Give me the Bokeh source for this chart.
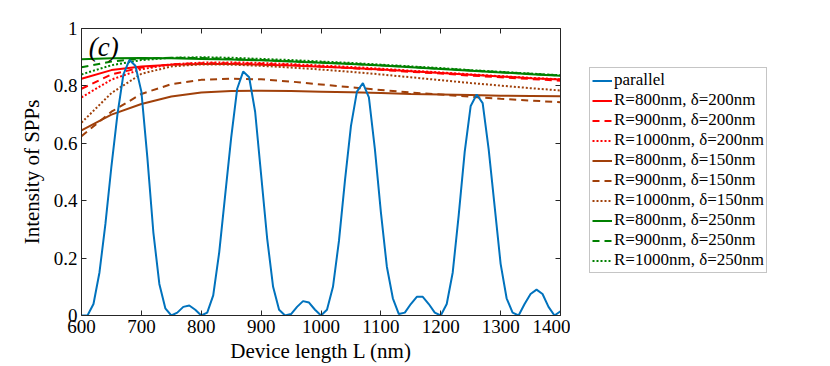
from bokeh.plotting import figure
from bokeh.models import (Legend, LegendItem, LinearAxis, FixedTicker, Range1d, Label)
from bokeh.layouts import row
from bokeh.embed import file_html
from bokeh.resources import INLINE

# ---------------- data ----------------
L_par = list(range(600, 1401, 10))
I_par = [0.0, 0.0, 0.04, 0.15, 0.32, 0.52, 0.70, 0.84, 0.89, 0.87,
         0.78, 0.55, 0.29, 0.11, 0.025, 0.0, 0.01, 0.03, 0.035, 0.02,
         0.0, 0.01, 0.07, 0.22, 0.42, 0.62, 0.79, 0.85, 0.83, 0.71,
         0.49, 0.27, 0.10, 0.02, 0.0, 0.005, 0.03, 0.05, 0.045, 0.02,
         0.0, 0.02, 0.10, 0.26, 0.47, 0.66, 0.78, 0.81, 0.76, 0.58,
         0.36, 0.17, 0.06, 0.005, 0.01, 0.04, 0.065, 0.065, 0.04, 0.01,
         0.0, 0.04, 0.15, 0.35, 0.57, 0.73, 0.77, 0.74, 0.58, 0.38,
         0.18, 0.06, 0.01, 0.0, 0.04, 0.075, 0.09, 0.075, 0.03, 0.0,
         0.015]

L_smooth = list(range(600, 1401, 50))
R800_d200 = [0.825, 0.855, 0.868, 0.874, 0.876, 0.876, 0.874, 0.871, 0.867,
             0.862, 0.857, 0.851, 0.845, 0.839, 0.833, 0.827, 0.822]
R900_d200 = [0.79, 0.84, 0.864, 0.875, 0.879, 0.879, 0.877, 0.873, 0.868,
             0.862, 0.856, 0.849, 0.843, 0.836, 0.83, 0.824, 0.818]
R1000_d200 = [0.76, 0.822, 0.858, 0.875, 0.881, 0.882, 0.88, 0.876, 0.871,
              0.866, 0.86, 0.853, 0.847, 0.84, 0.834, 0.828, 0.823]
R800_d150 = [0.645, 0.70, 0.737, 0.763, 0.777, 0.782, 0.783, 0.782, 0.78,
             0.778, 0.775, 0.772, 0.77, 0.768, 0.766, 0.765, 0.764]
R900_d150 = [0.625, 0.71, 0.772, 0.806, 0.821, 0.825, 0.823, 0.815, 0.805,
             0.795, 0.786, 0.777, 0.77, 0.762, 0.755, 0.749, 0.743]
R1000_d150 = [0.672, 0.775, 0.842, 0.868, 0.875, 0.874, 0.87, 0.864, 0.857,
              0.849, 0.84, 0.83, 0.82, 0.81, 0.801, 0.792, 0.784]
R800_d250 = [0.893, 0.896, 0.897, 0.896, 0.894, 0.892, 0.889, 0.885, 0.881,
             0.876, 0.871, 0.865, 0.859, 0.853, 0.847, 0.841, 0.835]
R900_d250 = [0.865, 0.885, 0.895, 0.898, 0.897, 0.894, 0.890, 0.886, 0.882,
             0.877, 0.872, 0.866, 0.860, 0.854, 0.848, 0.842, 0.836]
R1000_d250 = [0.84, 0.872, 0.89, 0.898, 0.9, 0.898, 0.894, 0.89, 0.885,
              0.88, 0.874, 0.868, 0.862, 0.855, 0.849, 0.843, 0.837]

labels = ["parallel",
          "R=800nm, δ=200nm", "R=900nm, δ=200nm", "R=1000nm, δ=200nm",
          "R=800nm, δ=150nm", "R=900nm, δ=150nm", "R=1000nm, δ=150nm",
          "R=800nm, δ=250nm", "R=900nm, δ=250nm", "R=1000nm, δ=250nm"]

x_ticks = [600, 700, 800, 900, 1000, 1100, 1200, 1300, 1400]
y_ticks = [0, 0.2, 0.4, 0.6, 0.8, 1]
y_tick_labels = ["0", "0.2", "0.4", "0.6", "0.8", "1"]
panel_label = "(c)"
panel_label_x = 612
panel_label_y = 0.935

# ---------------- styles ----------------
BLUE = "#0072BD"
RED = "#FF0000"
BROWN = "#A0400A"
GREEN = "#008000"
AX = "#262626"
FONT = "Liberation Serif"
DASH = "7 5"
DOT = "2 2"

p = figure(width=570, height=366, output_backend="svg",
           toolbar_location=None,
           x_range=Range1d(600, 1400), y_range=Range1d(0, 1),
           min_border_left=81, min_border_right=10, min_border_top=28,
           min_border_bottom=51)
p.grid.visible = False
p.outline_line_color = None
p.background_fill_color = "white"

def style_axis(ax):
    ax.axis_line_color = AX
    ax.axis_line_width = 1
    ax.major_tick_line_color = AX
    ax.major_tick_in = 5
    ax.major_tick_out = 0
    ax.minor_tick_line_color = None
    ax.major_label_text_font = FONT
    ax.major_label_text_font_size = "19px"
    ax.major_label_text_color = "black"
    ax.major_label_standoff = 4
    ax.axis_label_text_font = FONT
    ax.axis_label_text_font_size = "21px"
    ax.axis_label_text_font_style = "normal"
    ax.axis_label_text_color = "black"
    ax.axis_label_standoff = 3

p.xaxis.ticker = FixedTicker(ticks=x_ticks)
p.yaxis.ticker = FixedTicker(ticks=y_ticks)
p.yaxis.major_label_overrides = {t: s for t, s in zip(y_ticks, y_tick_labels)}
p.xaxis.axis_label = "Device length L (nm)"
p.yaxis.axis_label = "Intensity of SPPs"
style_axis(p.xaxis[0])
style_axis(p.yaxis[0])
p.yaxis[0].axis_label_standoff = 7

top = LinearAxis(ticker=FixedTicker(ticks=x_ticks),
                 major_label_overrides={t: "" for t in x_ticks})
right = LinearAxis(ticker=FixedTicker(ticks=y_ticks),
                   major_label_overrides={t: "" for t in y_ticks})
style_axis(top)
style_axis(right)
top.major_label_standoff = 0
right.major_label_standoff = 0
p.add_layout(top, "above")
p.add_layout(right, "right")

W = 2
series = [
    (R800_d200, RED, "solid"), (R900_d200, RED, DASH), (R1000_d200, RED, DOT),
    (R800_d150, BROWN, "solid"), (R900_d150, BROWN, DASH), (R1000_d150, BROWN, DOT),
    (R800_d250, GREEN, "solid"), (R900_d250, GREEN, DASH), (R1000_d250, GREEN, DOT),
]
for ys, col, dash in series:
    p.line(L_smooth, ys, line_color=col, line_width=W, line_dash=dash)
p.line(L_par, I_par, line_color=BLUE, line_width=W)

p.add_layout(Label(x=panel_label_x, y=panel_label_y, text=panel_label,
                   text_font=FONT, text_font_size="27px", text_font_style="italic",
                   text_baseline="middle", text_align="left", text_color="black"))

# ---------------- legend panel (separate figure, same series) ----------------
q = figure(width=250, height=366, output_backend="svg", toolbar_location=None,
           x_axis_type=None, y_axis_type=None,
           x_range=Range1d(0, 1), y_range=Range1d(-1, -0.5),
           min_border_left=0, min_border_right=0, min_border_top=0,
           min_border_bottom=0)
q.grid.visible = False
q.outline_line_color = None

items = [LegendItem(label=labels[0],
                    renderers=[q.line(L_par, I_par, line_color=BLUE, line_width=W)])]
for lab, (ys, col, dash) in zip(labels[1:], series):
    r = q.line(L_smooth, ys, line_color=col, line_width=W, line_dash=dash)
    items.append(LegendItem(label=lab, renderers=[r]))

legend = Legend(items=items, location=(19, 42))
legend.label_text_font = FONT
legend.label_text_font_size = "17px"
legend.label_text_color = "black"
legend.label_standoff = 2
legend.glyph_width = 20
legend.glyph_height = 19
legend.label_height = 19
legend.spacing = 0
legend.padding = 2
legend.margin = 0
legend.border_line_color = "#8c8c8c"
legend.border_line_width = 1
legend.background_fill_color = "white"
legend.background_fill_alpha = 1
q.add_layout(legend, "center")

layout = row(p, q, spacing=0)
open("out.html", "w").write(file_html(layout, INLINE))
